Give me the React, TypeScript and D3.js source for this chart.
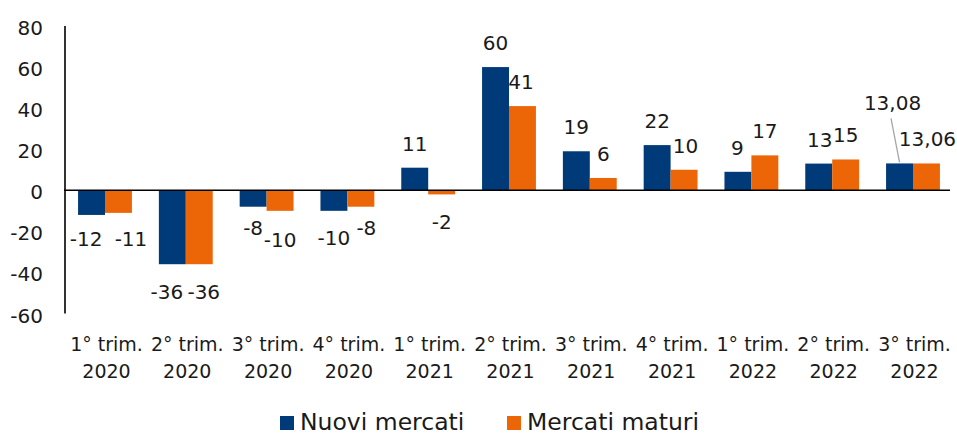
import React from "react";
import * as d3 from "d3";

// Quarterly growth, % change
const categories = [
  ["1° trim.", "2020"],
  ["2° trim.", "2020"],
  ["3° trim.", "2020"],
  ["4° trim.", "2020"],
  ["1° trim.", "2021"],
  ["2° trim.", "2021"],
  ["3° trim.", "2021"],
  ["4° trim.", "2021"],
  ["1° trim.", "2022"],
  ["2° trim.", "2022"],
  ["3° trim.", "2022"],
];
const nuoviMercati = [-12, -36, -8, -10, 11, 60, 19, 22, 9, 13, 13.08];
const mercatiMaturi = [-11, -36, -10, -8, -2, 41, 6, 10, 17, 15, 13.06];
const nuoviLabels = ["-12", "-36", "-8", "-10", "11", "60", "19", "22", "9", "13", "13,08"];
const maturiLabels = ["-11", "-36", "-10", "-8", "-2", "41", "6", "10", "17", "15", "13,06"];
const yTicks = [80, 60, 40, 20, 0, -20, -40, -60];
const seriesNames = ["Nuovi mercati", "Mercati maturi"];

// Hand placement tweaks for labels that would otherwise collide [dx, dy]
const nuoviNudge: [number, number][] = [
  [-5.5, 0], [-5.5, 3.5], [0, -3], [0, 3], [0, 0], [0, 0], [0, 0], [0, 0], [-0.5, 0], [1, 0], [-7, -36],
];
const maturiNudge: [number, number][] = [
  [12.5, 2.5], [4.5, 3.5], [0, 5], [5.5, -3], [0, 4], [-1.5, 0], [0, 0], [1.5, 0], [0, 0], [0, 0], [1, 0],
];

const W = 957;
const H = 436;
const NAVY = "#013a78";
const ORANGE = "#ec6608";
const TEXT = "#1a1a1a";
const FONT = "'DejaVu Sans', sans-serif";

export default function App() {
  const idx = categories.map((_, i) => String(i));
  const x = d3.scaleBand<string>().domain(idx).range([64.6, 953.4]).paddingInner(0).paddingOuter(0);
  const xs = d3
    .scaleBand<string>()
    .domain(["n", "m"])
    .range([0, x.bandwidth()])
    .paddingInner(0)
    .paddingOuter(0.5);
  const y = d3.scaleLinear().domain([-60, 80]).range([313.5, 26]);

  const series = [
    { key: "n", values: nuoviMercati, labels: nuoviLabels, nudge: nuoviNudge, color: NAVY },
    { key: "m", values: mercatiMaturi, labels: maturiLabels, nudge: maturiNudge, color: ORANGE },
  ];

  const labelPos = (v: number) => (v >= 0 ? y(v) - 17 : y(v) + 31);

  return (
    <svg
      width={W}
      height={H}
      style={{ position: "absolute", left: 0, top: 0, background: "#fff" }}
      fontFamily={FONT}
    >
      {/* bars */}
      {series.map((s) =>
        s.values.map((v, i) => {
          const bx = (x(String(i)) ?? 0) + (xs(s.key) ?? 0);
          return (
            <rect
              key={s.key + i}
              x={bx}
              y={Math.min(y(v), y(0))}
              width={xs.bandwidth()}
              height={Math.abs(y(v) - y(0))}
              fill={s.color}
            />
          );
        })
      )}

      {/* axes */}
      <line x1={65} x2={65} y1={y(80)} y2={y(-60)} stroke="#000" strokeWidth={1.6} />
      <line x1={64} x2={950} y1={y(0)} y2={y(0)} stroke="#000" strokeWidth={1.6} />

      {yTicks.map((t) => (
        <text
          key={t}
          x={43}
          y={y(t) + 2}
          textAnchor="end"
          dominantBaseline="central"
          fontSize={20}
          fill={TEXT}
        >
          {t}
        </text>
      ))}

      {/* leader line for the relocated label */}
      {(() => {
        const i = 10;
        const bx = (x(String(i)) ?? 0) + (xs("n") ?? 0) + xs.bandwidth() / 2;
        return (
          <line
            x1={bx - 8.5}
            y1={labelPos(nuoviMercati[i]) + nuoviNudge[i][1] + 8}
            x2={bx}
            y2={y(nuoviMercati[i]) - 1}
            stroke="#a6a6a6"
            strokeWidth={1.3}
          />
        );
      })()}

      {/* data labels */}
      {series.map((s) =>
        s.values.map((v, i) => {
          const cx = (x(String(i)) ?? 0) + (xs(s.key) ?? 0) + xs.bandwidth() / 2;
          return (
            <text
              key={"l" + s.key + i}
              x={cx + s.nudge[i][0]}
              y={labelPos(v) + s.nudge[i][1]}
              textAnchor="middle"
              fontSize={20}
              fill={TEXT}
            >
              {s.labels[i]}
            </text>
          );
        })
      )}

      {/* category labels */}
      {categories.map((c, i) => {
        const cx = (x(String(i)) ?? 0) + x.bandwidth() / 2 + 1.5;
        return (
          <text key={"c" + i} textAnchor="middle" fontSize={19} fill={TEXT}>
            <tspan x={cx} y={351}>
              {c[0]}
            </tspan>
            <tspan x={cx} y={378}>
              {c[1]}
            </tspan>
          </text>
        );
      })}

      {/* legend */}
      <rect x={280} y={416} width={14} height={14} fill={NAVY} />
      <text x={300} y={430} fontSize={23.5} fill={TEXT}>
        {seriesNames[0]}
      </text>
      <rect x={507} y={416} width={14} height={14} fill={ORANGE} />
      <text x={527} y={430} fontSize={23.5} fill={TEXT}>
        {seriesNames[1]}
      </text>
    </svg>
  );
}
